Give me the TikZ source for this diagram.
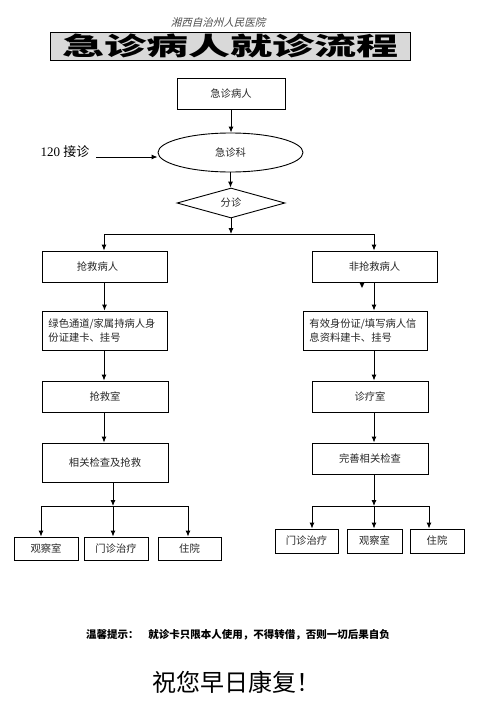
\documentclass[tikz,border=0pt]{standalone}
\usepackage{fontspec}
\setmainfont{Liberation Serif}
\newfontfamily\cjk{Noto Sans CJK SC}
\newfontfamily\cjkit[FakeSlant=0.25]{Noto Sans CJK SC}
\usetikzlibrary{arrows.meta,shapes.geometric,calc}
\begin{document}
\begin{tikzpicture}[x=1pt,y=-1pt,
  line width=0.9pt,
  arr/.style={-{Latex[length=6pt,width=5pt]}},
  bx/.style={draw,rectangle,inner sep=0pt,font=\cjk\fontsize{10.3}{12}\selectfont,text=black!85},
]
\useasboundingbox (0,0) rectangle (480,707);
% title
\node[font=\cjkit\fontsize{10.5}{12}\selectfont,text=black!70] (sub) at (218,22) {湘西自治州人民医院};
\node[draw,fill=black!15,minimum width=360pt,minimum height=28pt,inner sep=0pt] (title) at (230,46) {};
\node[font=\cjk\bfseries\fontsize{25}{26}\selectfont] (tt) at (230,46) {\scalebox{1.68}[1]{急诊病人就诊流程}};
% main
\node[bx,minimum width=108pt,minimum height=31pt] (p1) at (231,93.5) {急诊病人};
\node[draw,ellipse,minimum width=145pt,minimum height=39pt,inner sep=0pt,font=\cjk\fontsize{10.3}{12}\selectfont,text=black!85] (e) at (230.5,152.5) {急诊科};
\node[draw,diamond,aspect=3.6,minimum width=108pt,minimum height=30pt,inner sep=0pt,font=\cjk\fontsize{10.3}{12}\selectfont,text=black!85] (d) at (231,203) {分诊};
\node[font=\fontsize{13}{14}\selectfont] (jz) at (65,152) {120 {\cjk 接诊}};
\coordinate (c120) at (96,157);
\draw[arr] (c120) -- (c120 -| e.west);
\draw[arr] (p1.south) -- (p1.south |- e.north);
\draw[arr] (e.south) -- (e.south |- d.north);
\coordinate (t) at (231,234);
\coordinate (tl) at (104,234);
\coordinate (tr) at (374,234);
\draw[arr] (d.south) -- (t);
\draw (tl) -- (tr);
% columns
\node[bx,minimum width=125pt,minimum height=31pt] (L1) at (104.5,266.5) {\hspace*{-14pt}抢救病人};
\node[bx,minimum width=125pt,minimum height=31pt] (R1) at (374.5,266.5) {非抢救病人};
\draw[arr] (tl) -- (tl |- L1.north);
\draw[arr] (tr) -- (tr |- R1.north);
\node[bx,minimum width=125pt,minimum height=39pt] (L2) at (104.5,330.5) {};
\node[anchor=west,font=\cjk\fontsize{10.3}{14}\selectfont,text=black!85,align=left,inner sep=0pt] (L2t) at (48,331) {绿色通道/家属持病人身\\份证建卡、挂号};
\node[bx,minimum width=124pt,minimum height=39pt] (R2) at (365,330.5) {};
\node[anchor=west,font=\cjk\fontsize{10.3}{14}\selectfont,text=black!85,align=left,inner sep=0pt] (R2t) at (309,331) {有效身份证/填写病人信\\息资料建卡、挂号};
\draw[arr] (L1.south) -- (L1.south |- L2.north);
\coordinate (r1b) at (374,282);
\draw[arr] (r1b) -- (r1b |- R2.north);
\fill (359.5,282.5) -- (364.5,282.5) -- (362,288) -- cycle;
\node[bx,minimum width=126pt,minimum height=31pt] (L3) at (105,396.5) {抢救室};
\node[bx,minimum width=116pt,minimum height=31pt] (R3) at (370,396.5) {诊疗室};
\coordinate (l2b) at (104,350);
\coordinate (r2b) at (374,350);
\draw[arr] (l2b) -- (l2b |- L3.north);
\draw[arr] (r2b) -- (r2b |- R3.north);
\node[bx,minimum width=126pt,minimum height=39pt] (L4) at (105,462.5) {相关检查及抢救};
\node[bx,minimum width=116pt,minimum height=31pt] (R4) at (370,458.5) {完善相关检查};
\coordinate (l3b) at (104,412);
\coordinate (r3b) at (374,412);
\draw[arr] (l3b) -- (l3b |- L4.north);
\draw[arr] (r3b) -- (r3b |- R4.north);
% left branch
\coordinate (jl) at (113,506);
\coordinate (jla) at (41,506);
\coordinate (jlc) at (188,506);
\draw[arr] (jl |- L4.south) -- (jl);
\draw (jla) -- (jlc);
\node[bx,minimum width=64pt,minimum height=23pt] (a1) at (46,548.5) {观察室};
\node[bx,minimum width=64pt,minimum height=23pt] (a2) at (116,548.5) {门诊治疗};
\node[bx,minimum width=63pt,minimum height=23pt] (a3) at (189.5,548.5) {住院};
\draw[arr] (jla) -- (jla |- a1.north);
\draw[arr] (jl) -- (jl |- a2.north);
\draw[arr] (jlc) -- (jlc |- a3.north);
% right branch
\coordinate (jr) at (374,506);
\coordinate (jra) at (312,506);
\coordinate (jrc) at (429,506);
\draw[arr] (jr |- R4.south) -- (jr);
\draw (jra) -- (jrc);
\node[bx,minimum width=63pt,minimum height=24pt] (b1) at (306.5,541) {门诊治疗};
\node[bx,minimum width=55pt,minimum height=24pt] (b2) at (374.5,541) {观察室};
\node[bx,minimum width=54pt,minimum height=24pt] (b3) at (437,541) {住院};
\draw[arr] (jra) -- (jra |- b1.north);
\draw[arr] (jr) -- (jr |- b2.north);
\draw[arr] (jrc) -- (jrc |- b3.north);
% footer
\node[font=\cjk\bfseries\fontsize{10.5}{12}\selectfont] (tip) at (238,635) {温馨提示：\hspace{10pt}就诊卡只限本人使用，不得转借，否则一切后果自负};
\node[font=\cjk\fontsize{24}{26}\selectfont] (wish) at (236,682) {祝您早日康复！};
\end{tikzpicture}
\end{document}
